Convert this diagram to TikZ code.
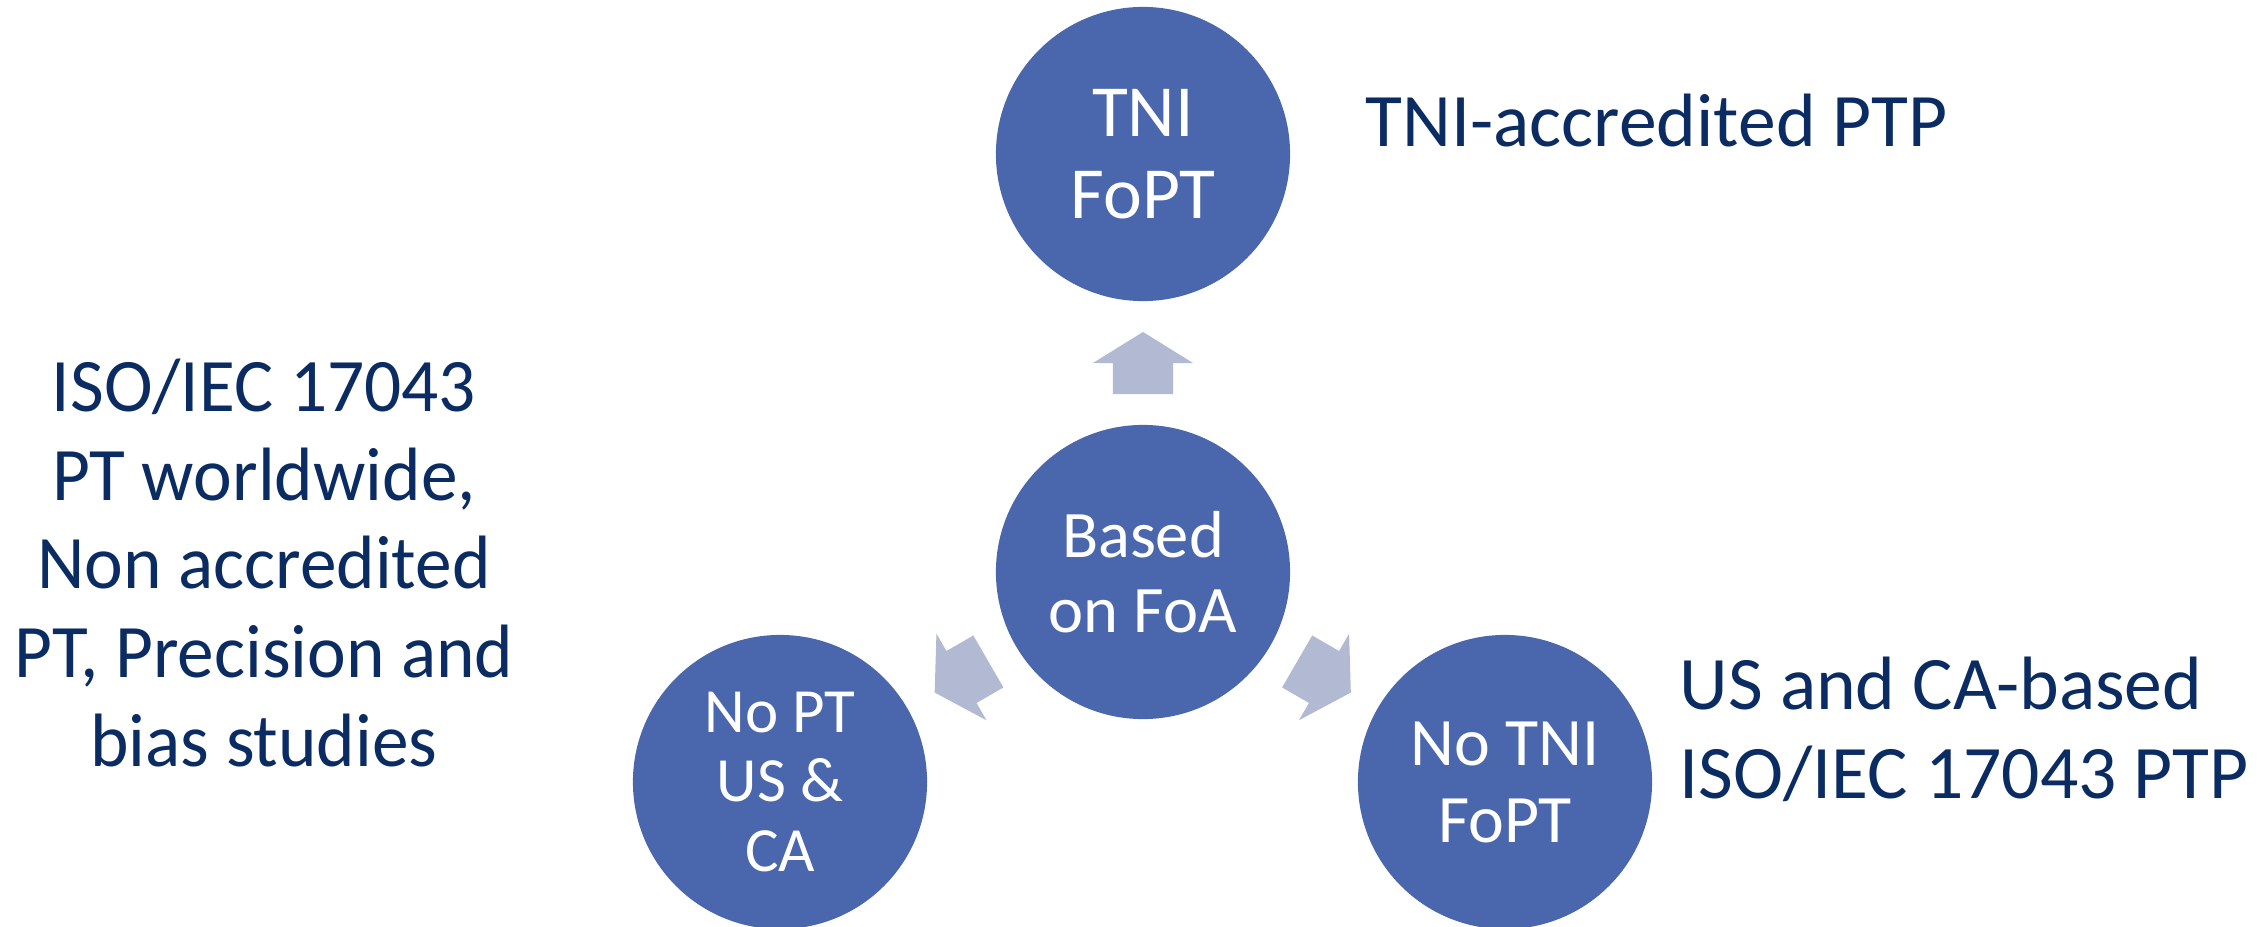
\documentclass[tikz,border=0pt]{standalone}
\usepackage{fontspec}
\setmainfont{Carlito}
\newfontfamily\worldfont{Carlito}[FakeStretch=0.97]
\usetikzlibrary{calc}

\definecolor{circblue}{HTML}{4A67AD}
\definecolor{flowgrey}{HTML}{B1B9D3}
\definecolor{navy}{HTML}{0B2C62}

\tikzset{
  fa/.style={circle, fill=circblue, minimum size=2.94cm, inner sep=0pt, text=white, align=center},
  note/.style={text=navy, inner sep=0pt, font=\fontsize{21.5}{25.3}\selectfont},
  flow/.style={fill=flowgrey}
}

% block arrow half way between two circles, pointing from #1 to #2
\newcommand\flowarrow[2]{%
  \coordinate (m-#2) at ($(#1)!0.5!(#2)$);
  \coordinate (k-#2) at ($(m-#2)!0.31cm!180:(#2)$);
  \fill[flow] ($(m-#2)!0.31cm!(#2)$)
    -- ($(m-#2)!0.5cm!90:(#2)$) -- ($(m-#2)!0.3cm!90:(#2)$)
    -- ($(k-#2)!0.3cm!90:(m-#2)$) -- ($(k-#2)!0.3cm!-90:(m-#2)$)
    -- ($(m-#2)!0.3cm!-90:(#2)$) -- ($(m-#2)!0.5cm!-90:(#2)$) -- cycle;}

\begin{document}
\begin{tikzpicture}[x=0.01cm, y=-0.01cm]
\useasboundingbox (0,0) rectangle (2262,927);
% circles
\node[fa, font=\fontsize{18.9}{21.3}\selectfont] (foa) at (1143,572) {Based\\on FoA};
\node[fa, font=\fontsize{20.9}{23.3}\selectfont] (tni) at (1143,154) {TNI\\FoPT};
\node[fa, font=\fontsize{17.9}{19.9}\selectfont] (nopt) at (780,782) {No PT\\US \&\\CA};
\node[fa, font=\fontsize{19.3}{21.9}\selectfont] (notni) at (1505,782) {No TNI\\FoPT};
% arrows
\flowarrow{foa}{tni}
\flowarrow{foa}{nopt}
\flowarrow{foa}{notni}
% texts
\node[note, font=\worldfont\fontsize{21.5}{25.3}\selectfont, align=center] (world) at (264,563) {ISO/IEC 17043\\PT worldwide,\\Non accredited\\PT, Precision and\\bias studies};
\node[note, anchor=base west] (tniptp) at (1365,146) {TNI-accredited PTP};
\node[note, align=left, anchor=west] (usca) at (1679,729) {US and CA-based\\ISO/IEC 17043 PTP};
\end{tikzpicture}
\end{document}
